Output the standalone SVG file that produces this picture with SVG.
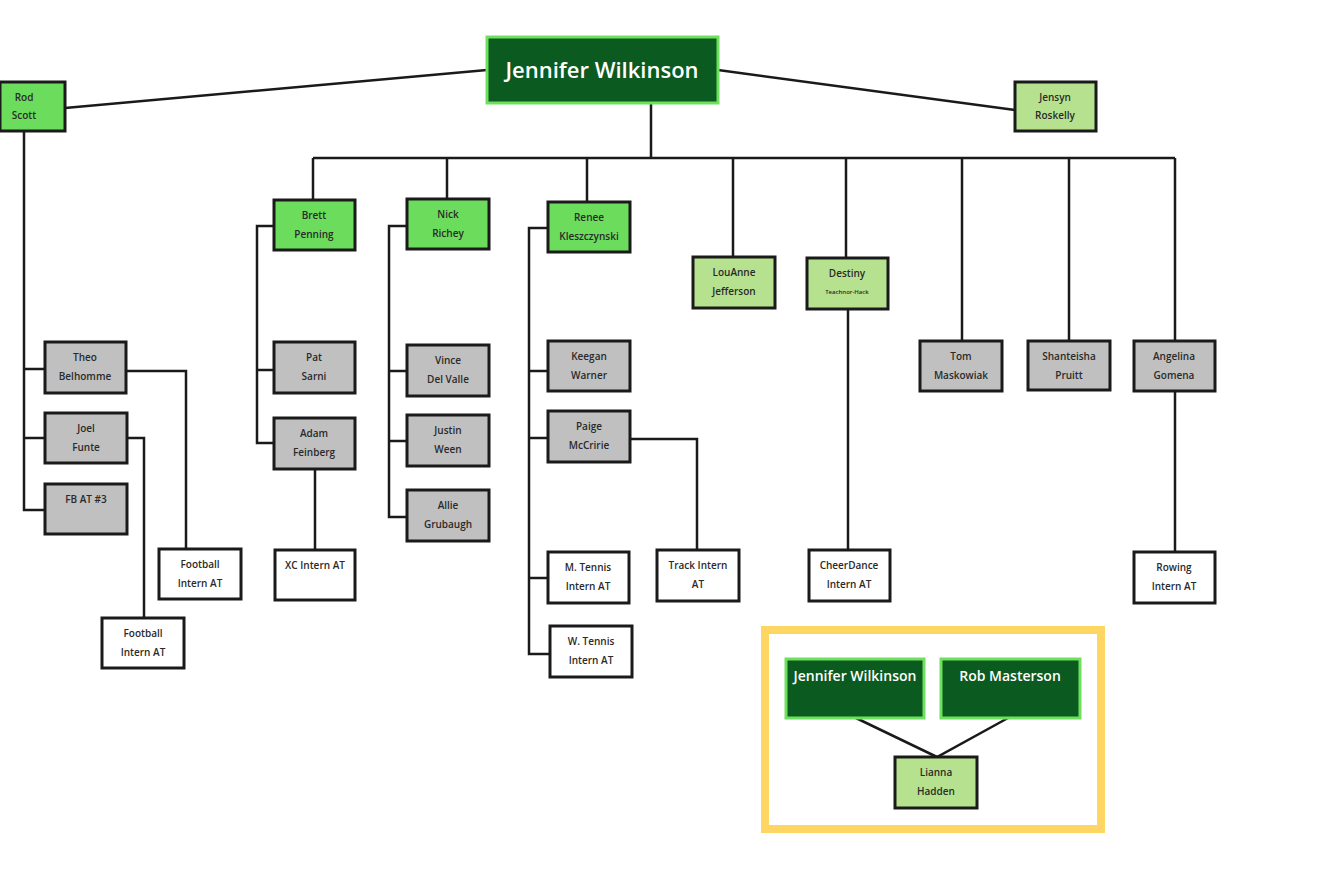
<svg xmlns="http://www.w3.org/2000/svg" width="1344" height="876" viewBox="0 0 1344 876">
<style>
.n rect{stroke:#1a1a1a;stroke-width:3}
.g1 rect{fill:#6cdc5c}
.g2 rect{fill:#b6e290}
.gr rect{fill:#c0c0c0}
.w rect{fill:#ffffff}
.d rect{fill:#0b5a20;stroke:#6fe05e;stroke-width:3}
text{font-family:"Open Sans","Liberation Sans",sans-serif;font-size:10px;font-weight:600;fill:#2a2a2a;text-anchor:middle}
.d text{fill:#ffffff;font-size:14px}
.big text{font-size:22px}
.sm{font-size:6px}
.c{stroke:#1a1a1a;stroke-width:2.5;fill:none}
</style>
<rect width="1344" height="876" fill="#ffffff"/>
<g id="legend-frame">
<rect x="765" y="630" width="336" height="199" fill="#ffffff" stroke="#fdd663" stroke-width="8"/>
</g>
<g id="connectors">
<line class="c" x1="487" y1="70" x2="65" y2="108"/>
<line class="c" x1="718" y1="70" x2="1015" y2="110"/>
<path class="c" d="M651 103V158M313 158H1175M313 158V200M447 158V199M587 158V202M733 158V257M846 158V258M962 158V341M1069 158V341M1175 158V341"/>
<path class="c" d="M24 131V510H45M24 369H45M24 438H45"/>
<path class="c" d="M126 371H186V549M127 438H144V618"/>
<path class="c" d="M274 226H257V443H274M257 370H274M315 469V550"/>
<path class="c" d="M407 226H389V517H407M389 371H407M389 441H407"/>
<path class="c" d="M548 228H529V654H550M529 371H548M529 438H548M529 578H548"/>
<path class="c" d="M630 439H697V550"/>
<path class="c" d="M848 309V550"/>
<path class="c" d="M1175 391V552"/>
<path class="c" d="M856 718L937 757L1008 718"/>
</g>
<g id="n-jw" class="n d big"><rect x="487" y="37" width="231" height="66"/><text x="602" y="78">Jennifer Wilkinson</text></g>
<g id="n-rod" class="n g1"><rect x="0" y="82" width="65" height="49"/><text x="24" y="101">Rod</text><text x="24" y="119">Scott</text></g>
<g id="n-jensyn" class="n g2"><rect x="1015" y="82" width="81" height="49"/><text x="1055" y="101">Jensyn</text><text x="1055" y="119">Roskelly</text></g>
<g id="n-brett" class="n g1"><rect x="274" y="200" width="81" height="50"/><text x="314" y="219">Brett</text><text x="314" y="238">Penning</text></g>
<g id="n-nick" class="n g1"><rect x="407" y="199" width="82" height="50"/><text x="448" y="218">Nick</text><text x="448" y="237">Richey</text></g>
<g id="n-renee" class="n g1"><rect x="548" y="202" width="82" height="50"/><text x="589" y="221">Renee</text><text x="589" y="240">Kleszczynski</text></g>
<g id="n-louanne" class="n g2"><rect x="693" y="257" width="82" height="51"/><text x="734" y="276">LouAnne</text><text x="734" y="295">Jefferson</text></g>
<g id="n-destiny" class="n g2"><rect x="807" y="258" width="81" height="51"/><text x="847" y="277">Destiny</text><text class="sm" x="847" y="294">Teachnor-Hack</text></g>
<g id="n-tom" class="n gr"><rect x="920" y="341" width="82" height="50"/><text x="961" y="360">Tom</text><text x="961" y="379">Maskowiak</text></g>
<g id="n-shanteisha" class="n gr"><rect x="1028" y="341" width="82" height="49"/><text x="1069" y="360">Shanteisha</text><text x="1069" y="379">Pruitt</text></g>
<g id="n-angelina" class="n gr"><rect x="1134" y="341" width="81" height="50"/><text x="1174" y="360">Angelina</text><text x="1174" y="379">Gomena</text></g>
<g id="n-theo" class="n gr"><rect x="45" y="342" width="81" height="51"/><text x="85" y="361">Theo</text><text x="85" y="380">Belhomme</text></g>
<g id="n-joel" class="n gr"><rect x="45" y="413" width="82" height="50"/><text x="86" y="432">Joel</text><text x="86" y="451">Funte</text></g>
<g id="n-fb3" class="n gr"><rect x="45" y="484" width="82" height="50"/><text x="86" y="503">FB AT #3</text></g>
<g id="n-fbi1" class="n w"><rect x="159" y="549" width="82" height="50"/><text x="200" y="568">Football</text><text x="200" y="587">Intern AT</text></g>
<g id="n-fbi2" class="n w"><rect x="102" y="618" width="82" height="50"/><text x="143" y="637">Football</text><text x="143" y="656">Intern AT</text></g>
<g id="n-pat" class="n gr"><rect x="274" y="342" width="81" height="51"/><text x="314" y="361">Pat</text><text x="314" y="380">Sarni</text></g>
<g id="n-adam" class="n gr"><rect x="274" y="418" width="81" height="51"/><text x="314" y="437">Adam</text><text x="314" y="456">Feinberg</text></g>
<g id="n-xc" class="n w"><rect x="275" y="550" width="80" height="50"/><text x="315" y="569">XC Intern AT</text></g>
<g id="n-vince" class="n gr"><rect x="407" y="345" width="82" height="51"/><text x="448" y="364">Vince</text><text x="448" y="383">Del Valle</text></g>
<g id="n-justin" class="n gr"><rect x="407" y="415" width="82" height="51"/><text x="448" y="434">Justin</text><text x="448" y="453">Ween</text></g>
<g id="n-allie" class="n gr"><rect x="407" y="490" width="82" height="51"/><text x="448" y="509">Allie</text><text x="448" y="528">Grubaugh</text></g>
<g id="n-keegan" class="n gr"><rect x="548" y="341" width="82" height="50"/><text x="589" y="360">Keegan</text><text x="589" y="379">Warner</text></g>
<g id="n-paige" class="n gr"><rect x="548" y="411" width="82" height="51"/><text x="589" y="430">Paige</text><text x="589" y="449">McCririe</text></g>
<g id="n-mtennis" class="n w"><rect x="548" y="552" width="81" height="51"/><text x="588" y="571">M. Tennis</text><text x="588" y="590">Intern AT</text></g>
<g id="n-wtennis" class="n w"><rect x="550" y="626" width="82" height="51"/><text x="591" y="645">W. Tennis</text><text x="591" y="664">Intern AT</text></g>
<g id="n-track" class="n w"><rect x="657" y="550" width="82" height="51"/><text x="698" y="569">Track Intern</text><text x="698" y="588">AT</text></g>
<g id="n-cheer" class="n w"><rect x="809" y="550" width="81" height="51"/><text x="849" y="569">CheerDance</text><text x="849" y="588">Intern AT</text></g>
<g id="n-rowing" class="n w"><rect x="1134" y="552" width="81" height="51"/><text x="1174" y="571">Rowing</text><text x="1174" y="590">Intern AT</text></g>
<g id="n-jw2" class="n d"><rect x="786" y="659" width="138" height="59"/><text x="855" y="681">Jennifer Wilkinson</text></g>
<g id="n-rob" class="n d"><rect x="941" y="659" width="139" height="59"/><text x="1010" y="681">Rob Masterson</text></g>
<g id="n-lianna" class="n g2"><rect x="895" y="757" width="82" height="51"/><text x="936" y="776">Lianna</text><text x="936" y="795">Hadden</text></g>
</svg>
